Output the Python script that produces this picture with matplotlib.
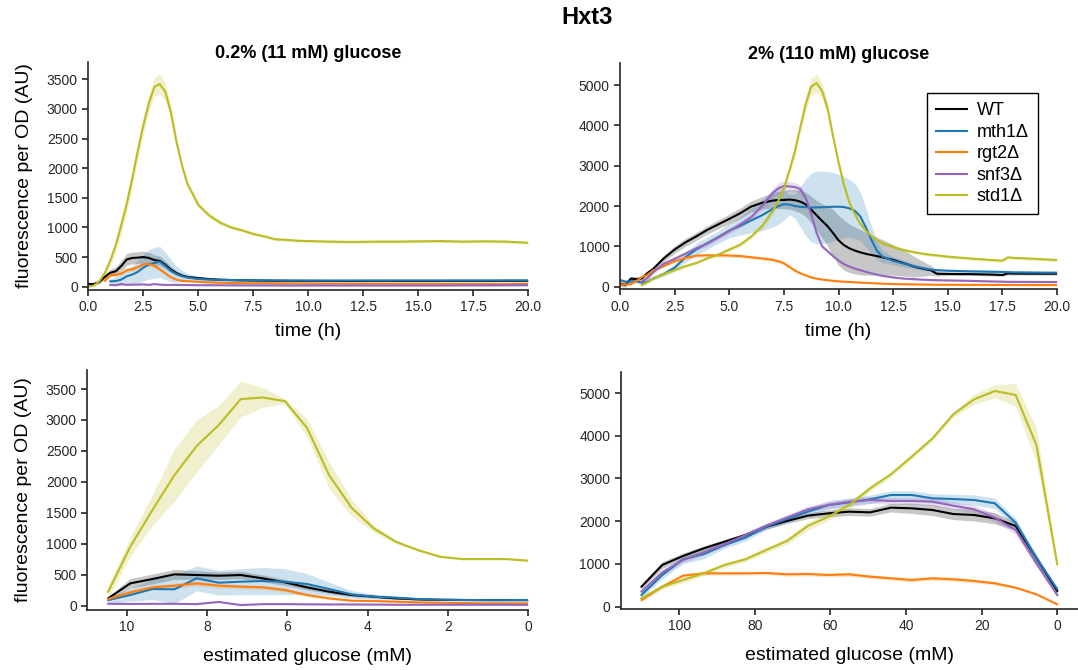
import numpy as np
import matplotlib
matplotlib.use("Agg")
import matplotlib.pyplot as plt

nan = np.nan

# ---------------- data ----------------
strains = ["WT", "mth1Δ", "rgt2Δ", "snf3Δ", "std1Δ"]
colors = ["black", "#1f77b4", "#ff7f0e", "#9467bd", "#bcbd22"]

# top-left: 0.2% glucose, time course
t_low = [0, 0.25, 0.5, 0.75, 1.0, 1.25, 1.5, 1.75, 2.0, 2.25, 2.5, 2.75, 3.0, 3.25, 3.5,
         3.75, 4.0, 4.25, 4.5, 5.0, 5.5, 6.0, 6.5, 7.0, 7.5, 8.0, 8.5, 9.0, 9.5, 10.0,
         11, 12, 13, 14, 15, 16, 17, 18, 19, 20]
low_wt = [45, 45, 80, 165, 235, 260, 350, 460, 485, 490, 500, 485, 450, 435, 370, 290, 230, 190, 165, 145,
          128, 118, 112, 108, 105, 102, 100, 100, 98, 98, 97, 96, 98, 97, 96, 97, 98, 97, 98, 100]
low_wt_sd = [20, 20, 30, 45, 60, 75, 90, 100, 100, 100, 100, 95, 90, 80, 70, 55, 40, 30, 25, 20,
             18, 15, 15, 15, 15, 15, 15, 15, 15, 15, 15, 15, 15, 15, 15, 15, 15, 15, 15, 15]
low_mth1 = [nan, nan, nan, nan, 90, 95, 120, 175, 205, 250, 320, 375, 400, 420, 350, 270, 215, 180, 155, 130,
            120, 115, 112, 110, 108, 106, 105, 104, 104, 103, 103, 104, 103, 104, 105, 104, 105, 105, 106, 105]
low_mth1_sd = [nan, nan, nan, nan, 40, 70, 100, 130, 150, 190, 220, 250, 260, 260, 230, 190, 140, 100, 70, 45,
               35, 30, 28, 25, 25, 25, 22, 22, 22, 22, 20, 20, 20, 20, 20, 20, 20, 20, 20, 20]
low_rgt2 = [nan, nan, nan, 100, 195, 200, 220, 280, 295, 330, 375, 385, 350, 295, 225, 160, 120, 100, 92, 82,
            72, 66, 62, 60, 58, 58, 57, 55, 54, 52, 51, 50, 50, 49, 48, 48, 47, 46, 45, 50]
low_rgt2_sd = [nan, nan, nan, 20, 30, 30, 30, 35, 35, 35, 35, 35, 30, 30, 25, 20, 15, 12, 10, 10,
               10, 10, 10, 10, 10, 10, 10, 10, 10, 10, 10, 10, 10, 10, 10, 10, 10, 10, 10, 10]
low_snf3 = [nan, nan, nan, nan, 30, 25, 45, 30, 35, 35, 40, 30, 45, 35, 30, 30, 30, 28, 28, 25,
            25, 24, 23, 22, 22, 21, 21, 20, 20, 20, 20, 20, 20, 20, 20, 20, 22, 22, 23, 25]
low_snf3_sd = [nan, nan, nan, nan, 10, 10, 10, 10, 10, 10, 10, 10, 10, 10, 10, 10, 10, 10, 10, 10,
               10, 10, 10, 10, 10, 10, 10, 10, 10, 10, 10, 10, 10, 10, 10, 10, 10, 10, 10, 10]
low_std1 = [0, 20, 90, 230, 440, 700, 1040, 1400, 1830, 2290, 2720, 3090, 3370, 3420, 3290, 2950, 2460, 2060,
            1740, 1380, 1200, 1080, 1000, 950, 890, 850, 800, 790, 775, 770, 760, 755, 760, 760, 765, 770,
            760, 765, 760, 740]
low_std1_sd = [10, 15, 30, 60, 90, 120, 150, 150, 150, 150, 150, 150, 160, 170, 150, 120, 90, 70, 60, 50,
               40, 35, 30, 30, 30, 25, 25, 25, 25, 25, 25, 25, 25, 25, 25, 25, 25, 25, 25, 25]

# top-right: 2% glucose, time course
t_high = [0, 0.25, 0.5, 0.75, 1.0, 1.25, 1.5, 2.0, 2.5, 3.0, 3.5, 4.0, 4.5, 5.0, 5.5, 6.0, 6.5, 7.0,
          7.25, 7.5, 7.75, 8.0, 8.25, 8.5, 8.75, 9.0, 9.25, 9.5, 9.75, 10.0, 10.25, 10.5, 10.75, 11.0,
          11.25, 11.5, 11.75, 12.0, 12.5, 13.0, 13.5, 14.0, 14.25, 14.5, 15.0, 16, 17, 17.5, 17.75, 18,
          19, 20]
high_wt = [70, 45, 200, 185, 205, 335, 430, 700, 920, 1100, 1250, 1410, 1545, 1680, 1820, 1985, 2080, 2135,
           2148, 2150, 2160, 2145, 2110, 2040, 1910, 1770, 1630, 1500, 1330, 1150, 1030, 950, 895, 850,
           815, 785, 760, 730, 665, 580, 490, 430, 400, 320, 315, 312, 300, 290, 328, 325, 322, 322]
high_wt_sd = [60, 60, 60, 60, 60, 60, 60, 80, 90, 100, 100, 100, 110, 120, 130, 140, 150, 200,
              210, 220, 240, 260, 280, 300, 330, 370, 420, 500, 580, 620, 620, 600, 580, 560,
              530, 500, 470, 440, 380, 320, 250, 160, 120, 60, 40, 35, 35, 35, 35, 35, 35, 35]
high_mth1 = [165, 124, 130, 135, 99, 124, 200, 315, 470, 730, 930, 1080, 1230, 1390, 1510, 1640, 1770, 1930,
             2000, 2045, 2035, 2000, 1980, 1970, 1960, 1965, 1970, 1975, 1980, 1982, 1975, 1940, 1880, 1740,
             1470, 1170, 900, 750, 640, 570, 500, 445, 425, 410, 395, 380, 370, 365, 360, 355, 350, 345]
high_mth1_sd = [40, 40, 40, 40, 40, 40, 40, 60, 80, 120, 150, 150, 150, 180, 230, 300, 380, 450,
                450, 400, 250, 300, 500, 700, 850, 900, 900, 880, 850, 800, 760, 720, 680, 600,
                480, 350, 230, 150, 100, 80, 60, 40, 40, 40, 40, 40, 40, 40, 40, 40, 40, 40]
high_rgt2 = [50, 55, 60, 140, 240, 290, 400, 510, 630, 715, 770, 778, 778, 772, 760, 730, 700, 665,
             630, 580, 490, 400, 335, 280, 230, 200, 178, 160, 145, 132, 124, 118, 110, 100,
             95, 88, 82, 75, 66, 60, 56, 52, 50, 50, 48, 46, 44, 43, 43, 42, 41, 40]
high_rgt2_sd = [20, 20, 20, 20, 30, 30, 30, 35, 40, 40, 40, 40, 40, 40, 40, 40, 40, 40,
                40, 40, 35, 30, 25, 20, 20, 20, 20, 20, 20, 20, 20, 20, 20, 20,
                20, 20, 20, 20, 20, 20, 20, 20, 20, 20, 20, 20, 20, 20, 20, 20, 20, 20]
high_snf3 = [nan, nan, nan, nan, 124, 210, 350, 565, 690, 820, 950, 1070, 1220, 1380, 1540, 1720, 2000, 2330,
             2440, 2495, 2485, 2470, 2420, 2200, 1800, 1330, 1000, 880, 760, 650, 560, 500, 450, 410,
             370, 330, 300, 270, 230, 200, 185, 170, 165, 160, 155, 145, 130, 125, 120, 120, 118, 115]
high_snf3_sd = [nan, nan, nan, nan, 50, 50, 50, 50, 50, 50, 60, 60, 60, 70, 80, 90, 100, 120,
                130, 130, 120, 110, 100, 90, 80, 60, 50, 40, 40, 40, 30, 30, 30, 30,
                25, 25, 25, 25, 20, 20, 20, 20, 20, 20, 20, 20, 20, 20, 20, 20, 20, 20]
high_std1 = [nan, nan, nan, nan, 41, 110, 195, 315, 410, 510, 590, 705, 795, 920, 1040, 1240, 1500, 1880,
             2130, 2437, 2870, 3350, 3950, 4530, 4960, 5050, 4850, 4420, 3730, 3090, 2520, 2080, 1790, 1560,
             1390, 1260, 1160, 1080, 985, 905, 850, 805, 790, 775, 745, 700, 660, 645, 725, 715, 690, 660]
high_std1_sd = [nan, nan, nan, nan, 30, 30, 30, 40, 40, 40, 40, 40, 50, 50, 50, 60, 70, 80,
                90, 100, 110, 130, 160, 200, 220, 220, 200, 150, 120, 100, 80, 60, 50, 50,
                40, 40, 40, 40, 40, 40, 40, 40, 40, 40, 40, 40, 40, 40, 40, 40, 40, 40]

# bottom-left: 0.2% glucose vs estimated glucose
g_low = [10.46, 9.91, 9.36, 8.81, 8.26, 7.71, 7.16, 6.61, 6.06, 5.51, 4.96, 4.40, 3.85, 3.30,
         2.75, 2.20, 1.65, 1.10, 0.55, 0.0]
glow_wt = [118, 360, 430, 506, 495, 484, 495, 441, 377, 296, 226, 172, 145, 118, 102, 95, 92, 90, 90, 90]
glow_wt_sd = [30, 80, 80, 80, 70, 60, 60, 55, 50, 40, 30, 25, 20, 15, 12, 10, 10, 10, 10, 10]
glow_mth1 = [91, 172, 269, 264, 441, 371, 387, 398, 387, 350, 269, 183, 145, 129, 108, 97, 92, 90, 90, 92]
glow_mth1_sd = [60, 100, 170, 230, 200, 200, 210, 220, 210, 170, 110, 60, 40, 30, 20, 15, 15, 15, 15, 15]
glow_rgt2 = [108, 215, 296, 323, 360, 323, 307, 296, 253, 172, 118, 81, 75, 65, 54, 48, 43, 38, 38, 38]
glow_rgt2_sd = [30, 40, 40, 40, 40, 35, 35, 35, 30, 25, 20, 15, 10, 10, 10, 10, 10, 10, 10, 10]
glow_snf3 = [30, 28, 30, 30, 25, 60, 10, 25, 25, 22, 20, 20, 18, 15, 15, 15, 15, 15, 15, 12]
glow_snf3_sd = [8, 8, 8, 8, 8, 8, 8, 8, 8, 8, 8, 8, 8, 8, 8, 8, 8, 8, 8, 8]
glow_std1 = [226, 952, 1544, 2109, 2577, 2916, 3336, 3363, 3303, 2873, 2109, 1582, 1248, 1033, 898, 791,
             753, 753, 753, 726]
glow_std1_sd = [100, 150, 250, 420, 420, 320, 290, 160, 40, 150, 215, 135, 60, 30, 20, 15, 15, 15, 15, 15]

# bottom-right: 2% glucose vs estimated glucose
g_high = [110, 104.5, 99, 93.5, 88, 82.5, 77, 71.5, 66, 60.5, 55, 49.5, 44, 38.5, 33, 27.5, 22, 16.5,
          11, 5.5, 0]
ghigh_wt = [468, 975, 1186, 1365, 1521, 1677, 1872, 2005, 2129, 2184, 2223, 2207, 2317, 2301, 2262, 2168,
            2145, 2067, 1888, 1131, 367]
ghigh_wt_sd = [60, 80, 70, 60, 50, 50, 60, 60, 70, 80, 90, 90, 100, 120, 130, 130, 140, 130, 100, 80, 50]
ghigh_mth1 = [273, 741, 1108, 1232, 1443, 1615, 1872, 2051, 2223, 2379, 2441, 2512, 2613, 2613, 2535, 2519,
              2496, 2418, 1966, 1131, 413]
ghigh_mth1_sd = [60, 90, 100, 110, 80, 80, 70, 80, 90, 100, 100, 100, 100, 100, 110, 110, 120, 120, 100, 80, 40]
ghigh_rgt2 = [156, 468, 725, 780, 780, 780, 788, 757, 764, 741, 757, 702, 663, 624, 663, 640, 601, 546,
              445, 289, 55]
ghigh_rgt2_sd = [30, 40, 40, 40, 40, 40, 40, 45, 45, 45, 45, 45, 45, 45, 45, 45, 45, 40, 30, 20, 10]
ghigh_snf3 = [351, 803, 1092, 1271, 1466, 1677, 1895, 2083, 2278, 2379, 2457, 2496, 2473, 2473, 2457, 2363,
              2278, 2083, 1794, 1014, 273]
ghigh_snf3_sd = [50, 60, 60, 60, 60, 60, 60, 70, 70, 80, 80, 80, 80, 80, 90, 90, 90, 100, 100, 80, 50]
ghigh_std1 = [195, 468, 624, 780, 975, 1108, 1326, 1537, 1888, 2106, 2379, 2769, 3097, 3510, 3939, 4500,
              4852, 5047, 4953, 3783, 991]
ghigh_std1_sd = [60, 60, 60, 60, 60, 60, 70, 80, 100, 90, 80, 70, 60, 60, 60, 70, 120, 150, 270, 400, 100]

panel_titles = ["0.2% (11 mM) glucose", "2% (110 mM) glucose"]
fig_title = "Hxt3"
ylabel = "fluorescence per OD (AU)"

# ---------------- style ----------------
plt.rcParams['font.family'] = ['Liberation Sans', 'DejaVu Sans']
plt.rcParams['axes.linewidth'] = 1.2
plt.rcParams['xtick.major.width'] = 1.2
plt.rcParams['ytick.major.width'] = 1.2
plt.rcParams['xtick.major.size'] = 4
plt.rcParams['ytick.major.size'] = 4
plt.rcParams['xtick.labelsize'] = 10
plt.rcParams['ytick.labelsize'] = 10
plt.rcParams['xtick.color'] = '#262626'
plt.rcParams['ytick.color'] = '#262626'
plt.rcParams['axes.edgecolor'] = '#262626'

W, H = 1078, 670
fig = plt.figure(figsize=(W / 100, H / 100), dpi=100)


def rect(x0, x1, y0, y1):
    return [x0 / W, 1 - y1 / H, (x1 - x0) / W, (y1 - y0) / H]


ax_tl = fig.add_axes(rect(88.3, 528.3, 61.7, 290))
ax_tr = fig.add_axes(rect(620, 1057, 62.7, 289.3))
ax_bl = fig.add_axes(rect(87.3, 528.3, 370, 610))
ax_br = fig.add_axes(rect(620.7, 1078, 371.7, 609))


def draw(ax, x, series, sds):
    x = np.asarray(x, float)
    for name, col, y, sd in zip(strains, colors, series, sds):
        y = np.asarray(y, float)
        sd = np.asarray(sd, float)
        ax.fill_between(x, y - sd, y + sd, color=col, alpha=0.22, linewidth=0)
        ax.plot(x, y, color=col, lw=1.5, label=name)


draw(ax_tl, t_low, [low_wt, low_mth1, low_rgt2, low_snf3, low_std1],
     [low_wt_sd, low_mth1_sd, low_rgt2_sd, low_snf3_sd, low_std1_sd])
draw(ax_tr, t_high, [high_wt, high_mth1, high_rgt2, high_snf3, high_std1],
     [high_wt_sd, high_mth1_sd, high_rgt2_sd, high_snf3_sd, high_std1_sd])
draw(ax_bl, g_low, [glow_wt, glow_mth1, glow_rgt2, glow_snf3, glow_std1],
     [glow_wt_sd, glow_mth1_sd, glow_rgt2_sd, glow_snf3_sd, glow_std1_sd])
draw(ax_br, g_high, [ghigh_wt, ghigh_mth1, ghigh_rgt2, ghigh_snf3, ghigh_std1],
     [ghigh_wt_sd, ghigh_mth1_sd, ghigh_rgt2_sd, ghigh_snf3_sd, ghigh_std1_sd])

ax_tl.set_xlim(0, 20)
ax_tr.set_xlim(0, 20)
ax_tl.set_ylim(-56, 3797)
ax_tr.set_ylim(-65, 5553)
ax_bl.set_xlim(10.98, 0)
ax_br.set_xlim(115.5, -5.5)
ax_bl.set_ylim(-70, 3807)
ax_br.set_ylim(-55, 5499)

ax_tl.set_yticks(np.arange(0, 3501, 500))
ax_bl.set_yticks(np.arange(0, 3501, 500))
ax_tr.set_yticks(np.arange(0, 5001, 1000))
ax_br.set_yticks(np.arange(0, 5001, 1000))
for a in (ax_tl, ax_tr):
    a.set_xticks(np.arange(0, 20.01, 2.5))
    a.set_xlabel("time (h)", fontsize=14, labelpad=6.5)
ax_bl.set_xticks([10, 8, 6, 4, 2, 0])
ax_br.set_xticks([100, 80, 60, 40, 20, 0])
for a in (ax_bl, ax_br):
    a.set_xlabel("estimated glucose (mM)", fontsize=14, labelpad=10)

for a in (ax_tl, ax_bl):
    a.set_ylabel(ylabel, fontsize=14, labelpad=10)

for a in (ax_tl, ax_tr, ax_bl, ax_br):
    a.spines['top'].set_visible(False)
    a.spines['right'].set_visible(False)

ax_tl.set_title(panel_titles[0], fontsize=13, fontweight='bold', pad=1)
ax_tr.set_title(panel_titles[1], fontsize=13, fontweight='bold', pad=1)

leg = ax_tr.legend(loc='upper right', bbox_to_anchor=(0.956, 0.865), fontsize=13,
                   frameon=True, fancybox=False, framealpha=1, edgecolor='black',
                   handlelength=1.7, handletextpad=0.55, labelspacing=0.25, borderpad=0.5,
                   borderaxespad=0)
leg.get_frame().set_linewidth(1.0)

fig.text(0.545, 1 - 17.5 / H, fig_title, ha='center', va='center', fontsize=17, fontweight='bold')

fig.savefig("out.png", dpi=100)
